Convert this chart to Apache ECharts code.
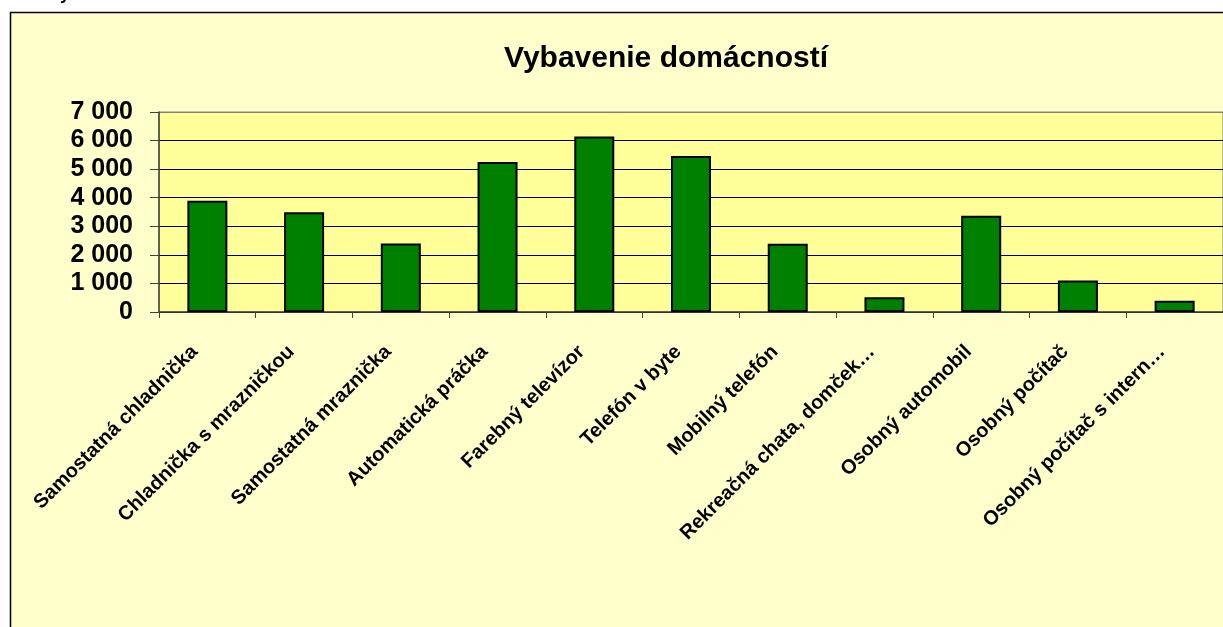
<!DOCTYPE html>
<html>
<head>
<meta charset="utf-8">
<script src="https://cdn.jsdelivr.net/npm/echarts@6/dist/echarts.min.js"></script>
<style>
  html, body { margin: 0; padding: 0; background: #fff; overflow: hidden; }
  #chart { width: 1223px; height: 627px; }
</style>
</head>
<body>
<div id="chart"></div>
<script>
const categories = [
  "Samostatná chladnička",
  "Chladnička s mrazničkou",
  "Samostatná mraznička",
  "Automatická práčka",
  "Farebný televízor",
  "Telefón v byte",
  "Mobilný telefón",
  "Rekreačná chata, domček…",
  "Osobný automobil",
  "Osobný počítač",
  "Osobný počítač s intern…",
];
const values = [3890, 3490, 2400, 5250, 6140, 5460, 2390, 520, 3370, 1100, 390];
const yMin = 0;
const yMax = 7000;
const yStep = 1000;

const font = "'Liberation Sans', Arial, sans-serif";

function fmtThousands(v) {
  return String(v).replace(/\B(?=(\d{3})+(?!\d))/g, " ");
}

const chart = echarts.init(document.getElementById("chart"));
chart.setOption({
  backgroundColor: "#fff",
  animation: false,
  textStyle: { fontFamily: font },
  graphic: [
    {
      type: "rect",
      z: -10,
      shape: { x: 10.5, y: 12.5, width: 1300, height: 700 },
      style: { fill: "#FFFFCC", stroke: "#000", lineWidth: 1.5 },
    },
    {
      type: "text",
      z: -5,
      x: 60,
      y: -15,
      style: {
        text: "y",
        font: "bold 18px " + font,
        fill: "#000",
        verticalAlign: "top",
      },
    },
  ],
  title: {
    text: "Vybavenie domácností",
    left: 666,
    top: 44,
    padding: 0,
    textAlign: "center",
    textStyle: {
      fontFamily: font,
      fontSize: 30,
      fontWeight: "bold",
      color: "#000",
    },
  },
  grid: {
    left: 159,
    top: 112,
    width: 1072,
    height: 200,
    show: true,
    backgroundColor: "#FFFF99",
    borderColor: "#808080",
    borderWidth: 1,
    containLabel: false,
  },
  xAxis: {
    type: "category",
    data: categories,
    axisLine: { lineStyle: { color: "#404040", width: 1.5 } },
    axisTick: { show: true, length: 6, lineStyle: { color: "#404040" } },
    axisLabel: {
      interval: 0,
      rotate: 45,
      margin: 24,
      padding: [0, 18, 0, 0],
      fontFamily: font,
      fontSize: 20,
      fontWeight: "bold",
      color: "#000",
    },
    splitLine: { show: false },
  },
  yAxis: {
    type: "value",
    min: yMin,
    max: yMax,
    interval: yStep,
    axisLine: { show: true, lineStyle: { color: "#404040", width: 1.5 } },
    axisTick: { show: true, length: 9, lineStyle: { color: "#404040" } },
    axisLabel: {
      margin: 26,
      fontFamily: font,
      fontSize: 25,
      fontWeight: "bold",
      color: "#000",
      formatter: fmtThousands,
    },
    splitLine: {
      lineStyle: {
        color: ["#000", "#000", "#000", "#000", "#000", "#000", "#000", "#808080"],
        width: 1,
      },
    },
  },
  series: [
    {
      type: "bar",
      data: values,
      barWidth: 40,
      itemStyle: {
        color: "#008000",
        borderColor: "#000",
        borderWidth: 2,
      },
    },
  ],
});
</script>
</body>
</html>
